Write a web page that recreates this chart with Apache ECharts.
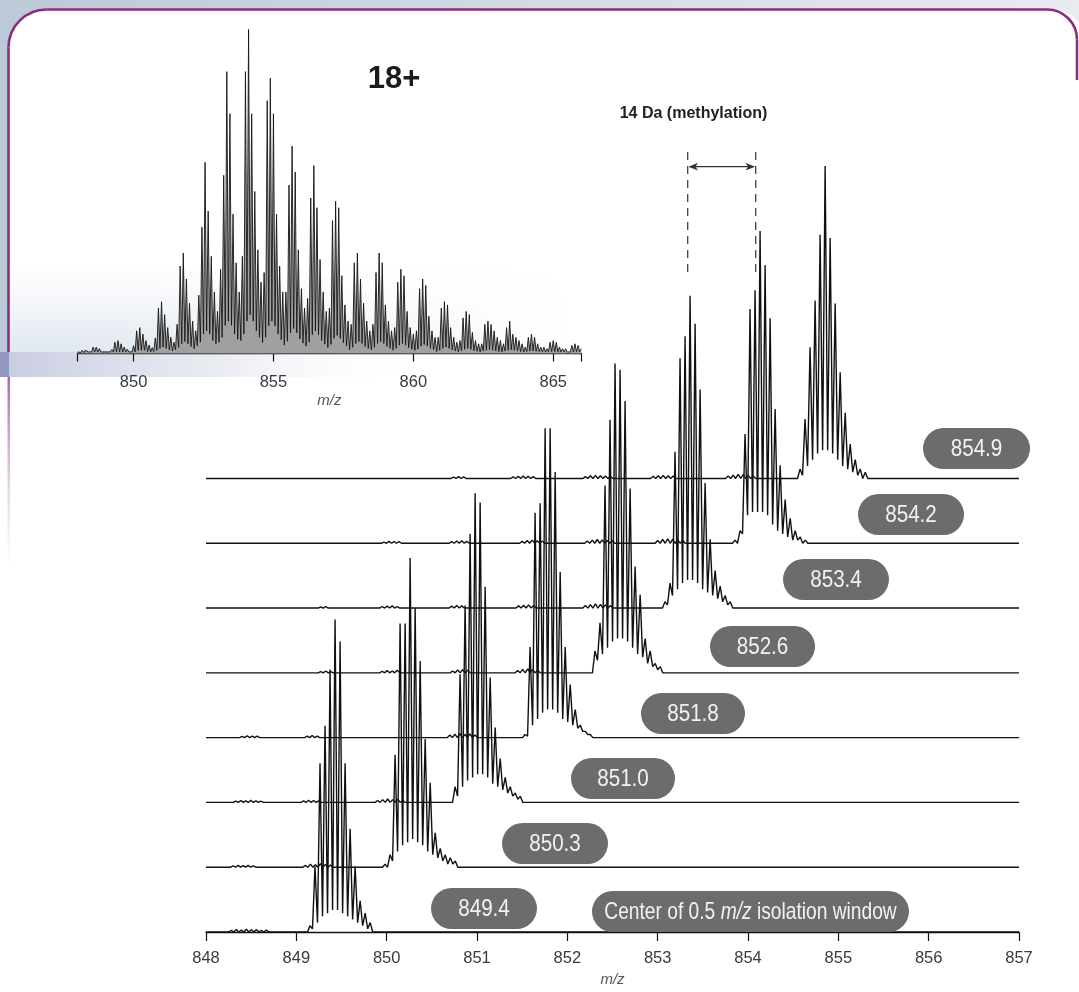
<!DOCTYPE html>
<html><head><meta charset="utf-8">
<script src="https://cdn.jsdelivr.net/npm/echarts@6/dist/echarts.min.js"></script>
<style>html,body{margin:0;padding:0;background:#fff}#c{width:1079px;height:992px}</style>
</head><body><div id="c"></div>
<script>
// ---------------- DATA ----------------
const ISO_STEP = 1 / 18;                       // isotope spacing for charge 18+
const mainTicks = [848, 849, 850, 851, 852, 853, 854, 855, 856, 857];
const insetTickLabels = [850, 855, 860, 865];
const traceLabels = ['849.4', '850.3', '851.0', '851.8', '852.6', '853.4', '854.2', '854.9'];
// m/z of first isotope peak in each stacked trace
const traceStartMz = [849.151, 849.982, 850.757, 851.532, 852.306, 853.081, 853.856, 854.576];
// isotope peak heights (% of tallest) per trace
const peaks849_4 = [2, 21, 54, 66, 84, 100, 93, 54, 33, 21, 10, 6, 3];
const peaks850_3 = [1, 4, 36, 78, 78, 99, 83, 66, 41, 27, 11, 6, 4, 3, 2];
const peaks851_0 = [5, 41, 63, 86, 99, 96, 69, 40, 24, 14, 8, 5, 3, 2];
const peaks851_8 = [1, 29, 72, 75, 99, 99, 85, 53, 29, 17, 9, 4, 2, 1];
const peaks852_6 = [7, 16, 60, 81, 99, 97, 87, 59, 34, 25, 11, 7, 3, 2];
const peaks853_4 = [2, 8, 50, 80, 87, 100, 91, 70, 40, 22, 12, 7, 4, 2];
const peaks854_2 = [1, 4, 35, 75, 81, 100, 89, 72, 43, 25, 14, 8, 4, 2, 1];
const peaks854_9 = [3, 19, 42, 57, 78, 100, 77, 56, 34, 21, 11, 6, 3, 2];
// valley levels between neighbouring isotope peaks
const valleys849_4 = [1, 3, 5, 6, 7, 7, 6, 5, 4, 3, 2, 1];
const valleys850_3 = [0, 2, 5, 7, 8, 9, 8, 7, 5, 4, 3, 2, 1, 1];
const valleys851_0 = [2, 5, 7, 8, 9, 9, 8, 6, 5, 4, 3, 2, 1];
const valleys851_8 = [0.5, 4, 6, 8, 9, 9, 8, 6, 5, 4, 3, 2, 1];
const valleys852_6 = [4, 6, 8, 10, 11, 11, 10, 8, 6, 5, 3, 2, 1];
const valleys853_4 = [1, 4, 6, 8, 9, 9, 8, 6, 5, 4, 3, 2, 1];
const valleys854_2 = [0, 3, 9, 10, 10, 10, 9, 6, 4, 3, 2, 1, 1, 0];
const valleys854_9 = [1, 4, 6, 8, 9, 9, 8, 6, 4, 3, 2, 1, 0];
// small leak-through wiggles on each baseline: [first m/z, heights]
const noise849_4 = [[848.28, [0.5, 0.8, 0.6, 0.9, 0.7, 0.8, 0.5, 0.6]]];
const noise850_3 = [[848.30, [0.4, 0.6, 0.5, 0.6, 0.4]], [849.10, [0.6, 1.0, 0.8, 1.1, 0.9, 0.7]]];
const noise851_0 = [[848.33, [0.4, 0.6, 0.5, 0.7, 0.5, 0.4]], [849.08, [0.5, 0.7, 0.6, 0.5]], [849.90, [0.6, 0.9, 1.1, 0.9, 1.0, 0.7]]];
const noise851_8 = [[848.40, [0.4, 0.6, 0.5, 0.5]], [849.12, [0.5, 0.7, 0.5]], [850.70, [0.8, 1.1, 1.3, 1.0, 1.2, 0.8]]];
const noise852_6 = [[849.27, [0.4, 0.6, 0.4]], [849.95, [0.5, 0.7, 0.6, 0.8]], [850.73, [0.6, 0.9, 1.0, 0.8]], [851.45, [0.7, 1.1, 1.3, 1.0, 0.8]]];
const noise853_4 = [[849.27, [0.4, 0.5]], [849.95, [0.5, 0.6, 0.7, 0.5]], [850.72, [0.6, 0.8, 0.7]], [851.46, [0.7, 0.9, 1.0, 0.8]], [852.20, [0.8, 1.1, 1.3, 1.2, 1.0, 0.8]]];
const noise854_2 = [[849.97, [0.4, 0.6, 0.5, 0.5]], [850.72, [0.5, 0.7, 0.8, 0.6]], [851.50, [0.6, 0.9, 1.0, 0.8, 0.7]], [852.22, [0.7, 1.0, 1.2, 1.1, 0.9, 0.8]], [853.00, [0.9, 1.2, 1.4, 1.3, 1.1, 0.9]]];
const noise854_9 = [[850.74, [0.4, 0.6, 0.5]], [851.40, [0.5, 0.7, 0.8, 0.7, 0.6]], [852.20, [0.6, 0.9, 1.0, 0.9, 0.8, 0.6]], [852.95, [0.7, 0.9, 1.0, 0.9, 0.8]], [853.78, [0.8, 1.1, 1.3, 1.2, 1.0, 0.8]]];
// full MS1 spectrum (inset): intensity profile sampled every 1/18 m/z from 848 to 866
const insetIntensity = [
  0.5,1,0.3,1,0.3,1,0.5,
  0.5,1,0.5,2,0.5,2,0.5,1.5,0.5,1,0.5,1,0.5,0.5,
  0.5,1.2,0.5,3.5,0.5,4,0.5,3,0.5,2,0.5,1.3,0.5,0.9,
  0.5,2.4,0.5,7,1,8,1,6,1,4,0.6,2.6,0.5,1.8,
  0.6,4.8,1,14,1.6,16,2,12,1.6,8,1.1,5,0.8,3.5,
  1.2,9,1.9,27,3,31,3.7,23,3,15.5,2.2,10,1.5,7,
  2.4,18,3.5,39,6,59,7,44,6,30,4,19,3,13,
  3.5,26,5,55,8.7,87,10,74,8.7,43,6,28,4.4,19,
  4,30,6,87,10,100,12,74,10,50,7,32,5,22,
  3.4,25,5,78,8.5,85,10,74,8.5,43,6,27,4.3,19,
  2.6,19,3.8,52,6.4,64,7.7,56,6.4,32,4.5,20,3.2,14,
  2.3,17,3.5,48,5.8,58,7,45,5.8,29,4,19,2.9,13,
  1.9,14,2.8,41,4.7,47,5.6,45,4.7,24,3.3,15,2.4,10,
  1.2,9,1.9,28,3.1,31,3.7,23,3.1,15.5,2.2,10,1.6,7,
  1.2,9,1.9,25,3.1,31,3.7,28,3.1,15,2.2,10,1.6,7,
  1,8,1.6,22,2.6,26,3.1,24,2.6,13,1.8,8,1.3,6,
  1,7,1.4,20,2.3,23,2.8,21,2.3,11.5,1.6,7,1.2,5,
  0.6,5,1,14,1.6,16,2,15,1.6,8,1.1,5,0.8,3.5,
  0.5,4,0.8,11,1.3,13,1.6,12,1.3,6.5,0.9,4,0.7,3,
  0.5,3,0.8,9,1,10,1.2,9,1,7,0.8,5,0.6,4,
  0.5,3,0.8,8,1,10,1.2,6,1,5,0.8,4,0.6,3,
  0.5,2,0.6,5,0.8,6,0.8,5,0.7,3,0.6,2,0.5,2,
  0.5,1.5,0.5,3.5,0.6,4,0.6,3.5,0.5,2,0.5,1.5,0.5,1.5,
  0.5,1,0.5,2.5,0.5,3,0.5,2.5,0.5,1.5
];

// ---------------- BUILD ----------------
const tracePeaks = [peaks849_4, peaks850_3, peaks851_0, peaks851_8, peaks852_6, peaks853_4, peaks854_2, peaks854_9];
const traceValleys = [valleys849_4, valleys850_3, valleys851_0, valleys851_8, valleys852_6, valleys853_4, valleys854_2, valleys854_9];
const traceNoise = [noise849_4, noise850_3, noise851_0, noise851_8, noise852_6, noise853_4, noise854_2, noise854_9];
const STACK = 20.74;   // vertical offset between stacked spectra
const SANS = '"Liberation Sans",Arial,sans-serif';

function traceData(i) {
  const off = i * STACK, h = ISO_STEP / 2;
  const groups = traceNoise[i].map(g => ({ s: g[0], pk: g[1], vl: null }));
  groups.push({ s: traceStartMz[i], pk: tracePeaks[i], vl: traceValleys[i] });
  groups.sort((a, b) => a.s - b.s);
  const pts = [[848, off]];
  groups.forEach(g => {
    pts.push([g.s - h, off]);
    g.pk.forEach((v, j) => {
      pts.push([g.s + j * ISO_STEP, off + v]);
      if (j < g.pk.length - 1) pts.push([g.s + j * ISO_STEP + h, off + (g.vl ? g.vl[j] : 0)]);
    });
    pts.push([g.s + (g.pk.length - 1) * ISO_STEP + h, off]);
  });
  pts.push([857, off]);
  return pts;
}
const insetData = insetIntensity.map((v, k) => [848 + k * ISO_STEP, v]);

const series = [];
for (let i = 0; i < tracePeaks.length; i++) {
  series.push({
    type: 'line', xAxisIndex: 0, yAxisIndex: 0, data: traceData(i),
    showSymbol: false, symbol: 'none', silent: true, animation: false, clip: false,
    lineStyle: { color: '#111', width: 1.4 }
  });
}
series.push({
  type: 'line', xAxisIndex: 1, yAxisIndex: 1, data: insetData,
  showSymbol: false, symbol: 'none', silent: true, animation: false,
  lineStyle: { color: '#151515', width: 0.9 }, areaStyle: { color: '#a0a0a0', opacity: 1 }
});

// ---------------- DECORATION ----------------
const BORDER = '#8d2b7e';
const pillLayout = [[431, 888, 106], [502, 823, 106], [571, 758, 104], [641, 693, 104],
                    [710, 626, 105], [783, 559, 106], [858, 494, 106], [923, 428, 107]];
const graphics = [
  { type: 'rect', z: -10, shape: { x: 0, y: 0, width: 1079, height: 352 },
    style: { fill: new echarts.graphic.LinearGradient(0, 0, 1, 0, [{ offset: 0, color: '#bdc9d7' }, { offset: 1, color: '#e8ebf0' }]) } },
  { type: 'rect', z: -9, shape: { x: 8.5, y: 9.5, width: 1075, height: 1100, r: [38, 30, 0, 0] }, style: { fill: '#fff' } },
  { type: 'rect', z: -8, shape: { x: 10, y: 265, width: 560, height: 88 },
    style: { fill: new echarts.graphic.LinearGradient(0, 0, 0, 1, [{ offset: 0, color: 'rgba(226,232,240,0)' }, { offset: 1, color: 'rgba(222,229,238,0.9)' }]) } },
  { type: 'rect', z: -8, shape: { x: 120, y: 265, width: 451, height: 88 },
    style: { fill: new echarts.graphic.LinearGradient(0, 0, 1, 0, [{ offset: 0, color: 'rgba(255,255,255,0)' }, { offset: 1, color: 'rgba(255,255,255,1)' }]) } },
  { type: 'line', z: -7, shape: { x1: 8.5, y1: 352, x2: 8.5, y2: 47.5 }, style: { stroke: BORDER, lineWidth: 2.6 } },
  { type: 'arc', z: -7, shape: { cx: 46.5, cy: 47.5, r: 38, startAngle: Math.PI, endAngle: Math.PI * 1.5, clockwise: true }, style: { stroke: BORDER, lineWidth: 2.6, fill: null } },
  { type: 'line', z: -7, shape: { x1: 46.5, y1: 9.5, x2: 1047, y2: 9.5 }, style: { stroke: BORDER, lineWidth: 2.6 } },
  { type: 'arc', z: -7, shape: { cx: 1047, cy: 39.5, r: 30, startAngle: Math.PI * 1.5, endAngle: Math.PI * 2, clockwise: true }, style: { stroke: BORDER, lineWidth: 2.6, fill: null } },
  { type: 'line', z: -7, shape: { x1: 1077, y1: 39.5, x2: 1077, y2: 80 }, style: { stroke: BORDER, lineWidth: 2.6 } },
  { type: 'rect', z: -6, shape: { x: 0, y: 352, width: 9, height: 25 }, style: { fill: '#9197bf' } },
  { type: 'rect', z: -6, shape: { x: 9, y: 352, width: 420, height: 25 },
    style: { fill: new echarts.graphic.LinearGradient(0, 0, 1, 0, [{ offset: 0, color: '#c9cde0' }, { offset: 0.5, color: 'rgba(225,228,238,0.7)' }, { offset: 1, color: 'rgba(255,255,255,0)' }]) } },
  { type: 'rect', z: -6, shape: { x: 7.5, y: 377, width: 2.6, height: 190 },
    style: { fill: new echarts.graphic.LinearGradient(0, 0, 0, 1, [{ offset: 0, color: 'rgba(160,80,150,0.85)' }, { offset: 1, color: 'rgba(200,170,210,0)' }]) } },
  // annotations
  { type: 'text', z: 50, style: { text: '18+', x: 394, y: 79, align: 'center', verticalAlign: 'middle', fill: '#1b1b1b', font: 'bold 31px ' + SANS } },
  { type: 'text', z: 50, style: { text: '14 Da (methylation)', x: 693.5, y: 114, align: 'center', verticalAlign: 'middle', fill: '#222', font: 'bold 16px ' + SANS } },
  { type: 'line', z: 50, shape: { x1: 687.7, y1: 152, x2: 687.7, y2: 272 }, style: { stroke: '#444', lineWidth: 1.3, lineDash: [8, 6] } },
  { type: 'line', z: 50, shape: { x1: 755.7, y1: 152, x2: 755.7, y2: 272 }, style: { stroke: '#444', lineWidth: 1.3, lineDash: [8, 6] } },
  { type: 'line', z: 50, shape: { x1: 690, y1: 166.7, x2: 753, y2: 166.7 }, style: { stroke: '#333', lineWidth: 1.3 } },
  { type: 'polygon', z: 50, shape: { points: [[688.5, 166.7], [698, 162.8], [695.5, 166.7], [698, 170.6]] }, style: { fill: '#333' } },
  { type: 'polygon', z: 50, shape: { points: [[755, 166.7], [745.5, 162.8], [748, 166.7], [745.5, 170.6]] }, style: { fill: '#333' } }
];
pillLayout.forEach((p, i) => {
  graphics.push({ type: 'rect', z: 60, shape: { x: p[0], y: p[1], width: p[2], height: 41, r: 20.5 }, style: { fill: '#6b6c6c' } });
  graphics.push({ type: 'text', z: 61, x: p[0] + p[2] / 2, y: p[1] + 21.5, scaleX: 0.86,
    style: { text: traceLabels[i], x: 0, y: 0, align: 'center', verticalAlign: 'middle', fill: '#f2f2f2', font: '24px ' + SANS } });
});
graphics.push({ type: 'rect', z: 60, shape: { x: 592, y: 891, width: 317, height: 41, r: 20.5 }, style: { fill: '#6b6c6c' } });
graphics.push({ type: 'text', z: 61, x: 750.5, y: 912, scaleX: 0.8, style: {
  text: '{a|Center of 0.5 }{b|m/z}{a| isolation window}', x: 0, y: 0, align: 'center', verticalAlign: 'middle',
  rich: { a: { fill: '#f2f2f2', fontSize: 24, fontFamily: SANS }, b: { fill: '#f2f2f2', fontSize: 24, fontFamily: SANS, fontStyle: 'italic' } } } });

// ---------------- CHART ----------------
const chart = echarts.init(document.getElementById('c'), null, { renderer: 'canvas', width: 1079, height: 992 });
chart.setOption({
  animation: false,
  backgroundColor: '#fff',
  grid: [
    { left: 206, right: 60, top: 151.05, bottom: 50.3 },
    { left: 77.6, right: 497.8, top: 29.5, bottom: 632 }
  ],
  xAxis: [
    { type: 'value', gridIndex: 0, min: mainTicks[0], max: mainTicks[mainTicks.length - 1], interval: 1,
      axisLine: { lineStyle: { color: '#111', width: 1.4 } },
      axisTick: { length: 9, lineStyle: { color: '#111', width: 1.2 } },
      axisLabel: { fontSize: 16.5, color: '#3a3a3a', fontFamily: SANS, margin: 15 },
      splitLine: { show: false },
      name: 'm/z', nameLocation: 'middle', nameGap: 36,
      nameTextStyle: { fontStyle: 'italic', fontSize: 15, color: '#555', fontFamily: SANS } },
    { type: 'value', gridIndex: 1, min: 848, max: 866,
      axisLine: { lineStyle: { color: '#111', width: 1.3 } },
      axisTick: { length: 8, customValues: [848].concat(insetTickLabels, [866]), lineStyle: { color: '#111', width: 1.2 } },
      axisLabel: { fontSize: 16.5, color: '#3a3a3a', fontFamily: SANS, margin: 14, customValues: insetTickLabels },
      splitLine: { show: false },
      name: 'm/z', nameLocation: 'middle', nameGap: 33,
      nameTextStyle: { fontStyle: 'italic', fontSize: 15, color: '#555', fontFamily: SANS } }
  ],
  yAxis: [
    { type: 'value', gridIndex: 0, min: -1, max: 250, show: false, splitLine: { show: false } },
    { type: 'value', gridIndex: 1, min: -2, max: 100, show: false, splitLine: { show: false } }
  ],
  graphic: { elements: graphics },
  series: series
});
</script>
</body></html>
